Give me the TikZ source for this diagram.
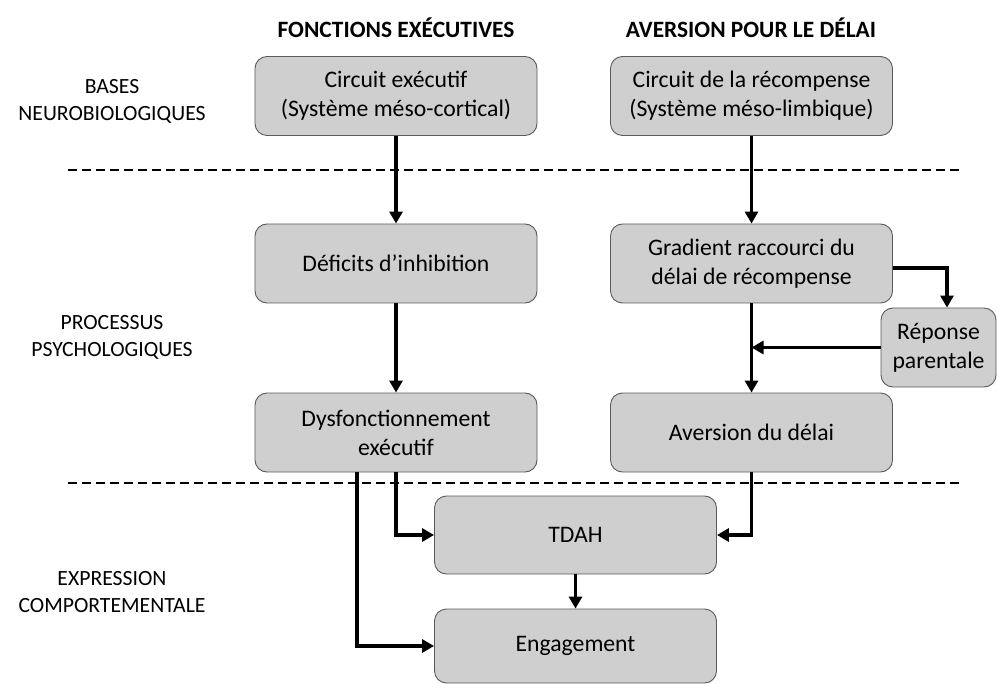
\documentclass[tikz,border=0pt]{standalone}
\usepackage{fontspec}
\setmainfont{Carlito}
\usetikzlibrary{arrows.meta}

\definecolor{boxgray}{HTML}{CFCFCF}
\definecolor{edgegray}{HTML}{5A5A5A}

\tikzset{
	box/.style={draw=edgegray,fill=boxgray,line width=0.9pt,rounded corners=12pt,
		minimum width=282pt,minimum height=79pt,align=center,
		font=\fontsize{23.7}{29}\selectfont},
	arr/.style={line width=3.6pt,-{Triangle[length=12pt,width=13pt]}},
	sep/.style={line width=1.1pt,dash pattern=on 9pt off 5pt},
	lbl/.style={align=center,font=\fontsize{21.7}{27}\selectfont},
	head/.style={font=\fontsize{23.4}{28}\selectfont\bfseries}
}

\begin{document}
\begin{tikzpicture}[x=1pt,y=-1pt]
		\useasboundingbox (0,0) rectangle (998,684);
		% column headers and row labels
		\draw (396,28) 		node (hfe) [head] {FONCTIONS EXÉCUTIVES};
		\draw (751,28) 		node (had) [head] {AVERSION POUR LE DÉLAI};
		\draw (112,101) 	node (lbases) [lbl] {BASES\\NEUROBIOLOGIQUES};
		\draw (112,337) 	node (lproc) [lbl] {PROCESSUS\\PSYCHOLOGIQUES};
		\draw (112,592) 	node (lexpr) [lbl] {EXPRESSION\\COMPORTEMENTALE};
		% separators
		\draw [sep] (68,170) -- (962,170);
		\draw [sep] (68,483) -- (962,483);
		% boxes
		\draw (396,96) 		node (exec) [box] {Circuit exécutif\\(Système méso-cortical)};
		\draw (751.5,96) 	node (recomp) [box] {Circuit de la récompense\\(Système méso-limbique)};
		\draw (396,263.5) 	node (deficit) [box] {Déficits d’inhibition};
		\draw (751.5,263.5) node (gradient) [box] {Gradient raccourci du\\délai de récompense};
		\draw (938.5,347.5) node (reponse) [box,minimum width=115pt] {Réponse\\parentale};
		\draw (396,432.5) 	node (dysf) [box] {Dysfonctionnement\\exécutif};
		\draw (751.5,432.5) node (aversion) [box] {Aversion du délai};
		\draw (575.5,535) 	node (tdah) [box,minimum height=78pt] {TDAH};
		\draw (575.5,646) 	node (engage) [box,minimum height=74pt] {Engagement};
		% arrows
		\draw [arr] (exec) -- (deficit);
		\draw [arr] (recomp) -- (gradient);
		\draw [arr] (deficit) -- (dysf);
		\draw [arr] (gradient) -- (aversion);
		\draw [arr] ([yshift=-4.5pt]gradient.east) -| ([xshift=8.5pt]reponse.north);
		\draw [arr] (reponse.west) -- (reponse.west -| gradient.south);
		\draw [arr] (dysf.south) |- (tdah.west);
		\draw [arr] ([xshift=-39pt]dysf.south) |- (engage.west);
		\draw [arr] (aversion.south) |- (tdah.east);
		\draw [arr] (tdah) -- (engage);
	\end{tikzpicture}
\end{document}
